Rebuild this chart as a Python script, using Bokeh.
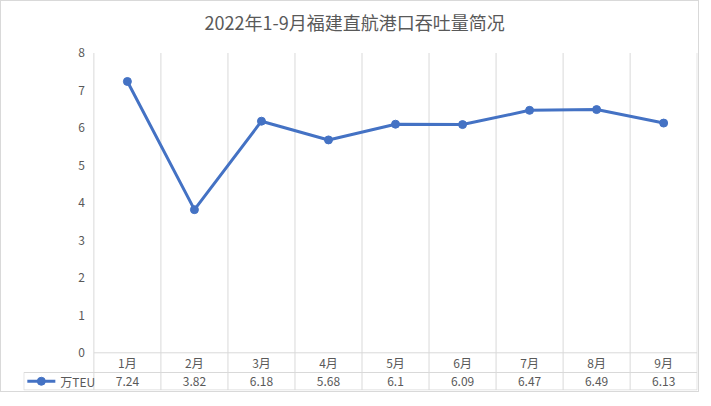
from bokeh.plotting import figure
from bokeh.models import Range1d, FixedTicker, Label
from bokeh.core.properties import value
from bokeh.embed import file_html
from bokeh.resources import INLINE

# ---- data ----
chart_title = "2022年1-9月福建直航港口吞吐量简况"
months = ["1月", "2月", "3月", "4月", "5月", "6月", "7月", "8月", "9月"]
teu = [7.24, 3.82, 6.18, 5.68, 6.1, 6.09, 6.47, 6.49, 6.13]
teu_labels = ["7.24", "3.82", "6.18", "5.68", "6.1", "6.09", "6.47", "6.49", "6.13"]
series_name = "万TEU"
y_ticks = [0, 1, 2, 3, 4, 5, 6, 7, 8]

FONT = "Noto Sans CJK SC"
TEXT = "#595959"
GRID = "#D9D9D9"
BLUE = "#4472C4"

# table row geometry (data units)
ROW1 = -0.526
ROW2 = -0.993
LEFT = -1.045
YMAX = 8
Y_TOP = 9.374

p = figure(width=699, height=392, output_backend="svg", toolbar_location=None,
           x_range=Range1d(-1.05, 9.005), y_range=Range1d(-1.006, Y_TOP),
           x_axis_type=None,
           min_border_left=22, min_border_right=3, min_border_top=0, min_border_bottom=3,
           styles={"border": "1px solid #D9D9D9"})

p.outline_line_color = None
p.xgrid.visible = False
p.ygrid.visible = False

ax = p.yaxis[0]
ax.ticker = FixedTicker(ticks=y_ticks)
ax.fixed_location = 0
ax.axis_line_color = None
ax.major_tick_line_color = None
ax.minor_tick_line_color = None
ax.major_tick_out = 0
ax.major_tick_in = 0
ax.major_label_standoff = 9
ax.major_label_text_font = FONT
ax.major_label_text_font_size = "12px"
ax.major_label_text_color = TEXT

# chart title
p.add_layout(Label(x=3.89, y=8.82, text=chart_title, text_align="center",
                   text_baseline="middle", text_font=FONT, text_font_size="18px",
                   text_color=TEXT))

n = len(months)
xs = [i + 0.5 for i in range(n)]
bounds = list(range(n + 1))

# vertical grid/table lines
p.segment(x0=bounds, y0=[ROW2] * len(bounds), x1=bounds, y1=[YMAX] * len(bounds),
          line_color=GRID, line_width=1)
p.segment(x0=[LEFT], y0=[ROW1], x1=[LEFT], y1=[ROW2], line_color=GRID, line_width=1)
# horizontal table lines
p.segment(x0=[0, LEFT, LEFT], y0=[0, ROW1, ROW2], x1=[n, n, n], y1=[0, ROW1, ROW2],
          line_color=GRID, line_width=1)

# series
p.line(xs, teu, line_color=BLUE, line_width=3)
p.scatter(xs, teu, size=8, fill_color=BLUE, line_color=BLUE)

# table texts
p.text(x=xs, y=[ROW1 / 2] * n, text=months, text_align="center", text_baseline="middle",
       text_font=value(FONT), text_font_size="12px", text_color=TEXT)
p.text(x=xs, y=[(ROW1 + ROW2) / 2] * n, text=teu_labels, text_align="center",
       text_baseline="middle", text_font=value(FONT), text_font_size="12px", text_color=TEXT)

# legend key in the table
mid2 = (ROW1 + ROW2) / 2
p.line(x=[-0.993, -0.575], y=[mid2, mid2], line_color=BLUE, line_width=3)
p.scatter(x=[-0.784], y=[mid2], size=8, fill_color=BLUE, line_color=BLUE)
p.text(x=[-0.5], y=[mid2], text=[series_name], text_align="left", text_baseline="middle",
       text_font=value(FONT), text_font_size="12px", text_color=TEXT)

open("out.html", "w").write(file_html(p, INLINE))
